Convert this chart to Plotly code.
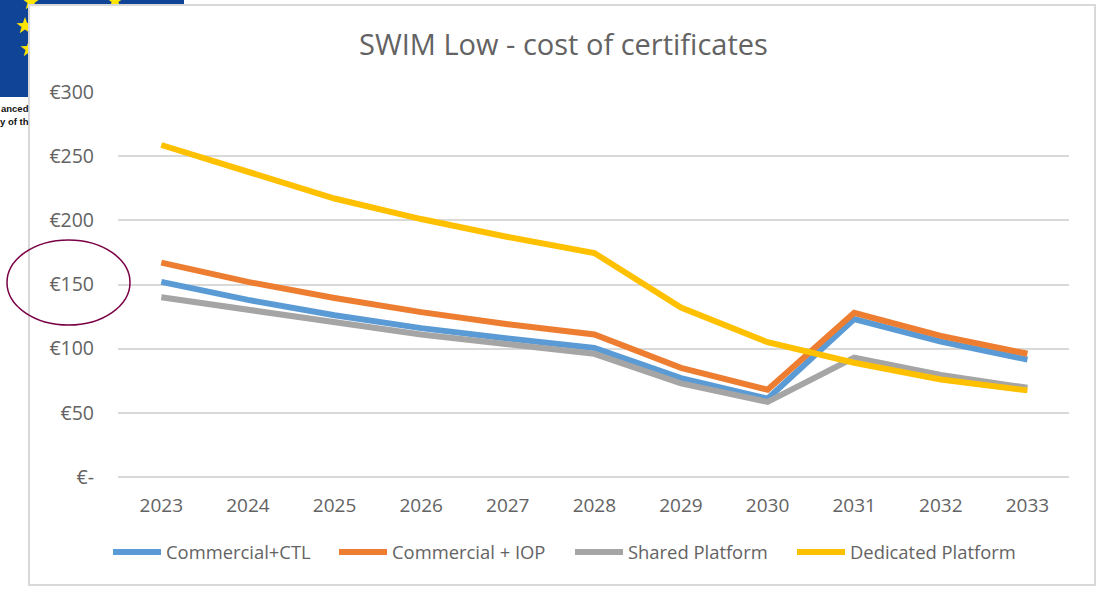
import math
import plotly.graph_objects as go

years = ["2023", "2024", "2025", "2026", "2027", "2028", "2029", "2030", "2031", "2032", "2033"]
commercial_ctl = [152, 138, 126, 116, 108, 100.5, 77, 61, 123, 105.5, 91.5]
commercial_iop = [167, 152, 139.5, 128.5, 119, 111, 85, 68, 128, 110, 96]
shared_platform = [140, 130, 120, 111, 103.5, 96, 73, 58.5, 93, 79.5, 69.5]
dedicated_platform = [258.7, 238, 217, 201, 187, 174.5, 132, 105, 89, 76, 67.5]
y_tick_values = [0, 50, 100, 150, 200, 250, 300]
y_tick_labels = ["€-", "€50", "€100", "€150", "€200", "€250", "€300"]
title_text = "SWIM Low - cost of certificates"

W, H = 1101, 592
L, R, T, B = 118, 1069, 92, 477
TXT = "#636363"
FONT = "Open Sans"


def px(x):
    return (x - L) / (R - L)


def py(y):
    return (B - y) / (B - T)


def star(cx, cy, r=9):
    pts = []
    for i in range(10):
        rad = r if i % 2 == 0 else r * 0.4
        a = -math.pi / 2 + i * math.pi / 5
        pts.append((px(cx + rad * math.cos(a)), py(cy + rad * math.sin(a))))
    return "M" + " L".join(f"{a:.5f},{b:.5f}" for a, b in pts) + " Z"


fig = go.Figure()
for name, vals, col, lw in [
    ("Commercial+CTL", commercial_ctl, "#5B9BD5", 163),
    ("Commercial + IOP", commercial_iop, "#ED7D31", 173),
    ("Shared Platform", shared_platform, "#A5A5A5", 159),
    ("Dedicated Platform", dedicated_platform, "#FFC000", 172),
]:
    fig.add_trace(go.Scatter(x=years, y=vals, name=name, mode="lines", legendwidth=lw,
                             line=dict(color=col, width=6)))

shapes = [
    dict(type="rect", xref="paper", yref="paper", x0=px(0), x1=px(184), y0=py(97), y1=py(0),
         fillcolor="#0F4496", line_width=0, layer="below"),
]
for cx, cy in [(31, 2), (25, 26), (29, 49), (115, 1)]:
    shapes.append(dict(type="path", xref="paper", yref="paper", path=star(cx, cy),
                       fillcolor="#FFE500", line_width=0, layer="below"))
shapes += [
    dict(type="rect", xref="paper", yref="paper", x0=px(29), x1=px(1095), y0=py(585), y1=py(5),
         fillcolor="white", line=dict(color="#D9D9D9", width=2), layer="below"),
    dict(type="circle", xref="paper", yref="paper", x0=px(7), x1=px(130), y0=py(325), y1=py(240),
         fillcolor="rgba(0,0,0,0)", line=dict(color="#7A0045", width=1.5), layer="above"),
]

annotations = [
    dict(text="<b>anced</b>", xref="paper", yref="paper", x=px(31), y=py(108), xanchor="right", yanchor="middle",
         showarrow=False, font=dict(family="Liberation Sans", size=9.5, color="#111111")),
    dict(text="<b>y of th</b>", xref="paper", yref="paper", x=px(31), y=py(121), xanchor="right", yanchor="middle",
         showarrow=False, font=dict(family="Liberation Sans", size=9.5, color="#111111")),
]

fig.update_layout(
    width=W, height=H, autosize=False,
    margin=dict(l=L, r=W - R, t=T, b=H - B, pad=0),
    paper_bgcolor="white", plot_bgcolor="rgba(0,0,0,0)",
    font=dict(family=FONT, color=TXT, size=18),
    title=dict(text=title_text, x=(357 + 770) / 2 / W, xanchor="center", xref="container",
               y=1 - 45 / H, yanchor="middle", font=dict(size=29, color=TXT, family=FONT)),
    showlegend=True,
    legend=dict(orientation="h", x=108 / W, xref="container", xanchor="left", y=1 - 552 / H, yref="container",
                yanchor="middle", font=dict(size=18.4, color=TXT), itemwidth=48,
                bgcolor="rgba(0,0,0,0)", traceorder="normal"),
    xaxis=dict(type="category", range=[-0.5, 10.48], showgrid=False, showline=False, ticks="",
               tickfont=dict(size=19, color=TXT), zeroline=False, ticklabelstandoff=15),
    yaxis=dict(range=[0, 300], tickvals=y_tick_values, ticktext=y_tick_labels, showgrid=True,
               gridcolor="#D9D9D9", gridwidth=2, zeroline=True, zerolinecolor="#D9D9D9", zerolinewidth=2,
               showline=False, ticks="", tickfont=dict(size=19.5, color=TXT), ticklabelstandoff=23),
    shapes=shapes, annotations=annotations,
)
fig.write_html("out.html", post_script="document.body.style.margin='0';",
               config=dict(displayModeBar=False))
